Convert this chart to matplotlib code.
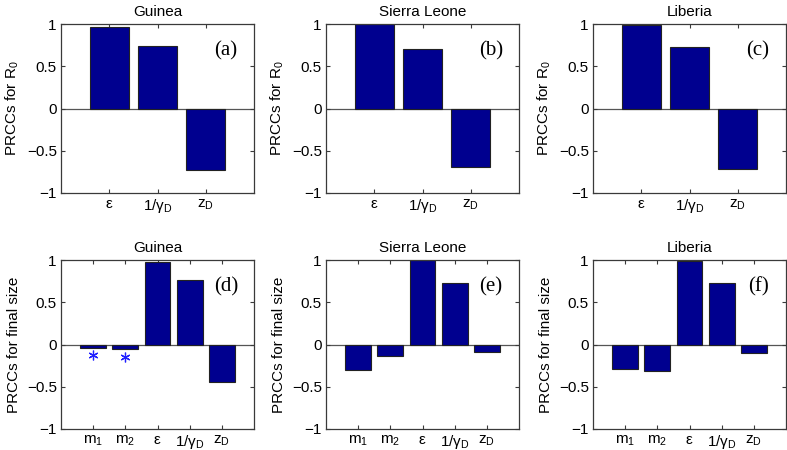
import matplotlib
matplotlib.use("Agg")
import matplotlib.pyplot as plt
import numpy as np

plt.rcParams['font.family'] = ['Liberation Sans', 'DejaVu Sans']
plt.rcParams['mathtext.fontset'] = 'custom'
plt.rcParams['mathtext.rm'] = 'Liberation Sans'
plt.rcParams['mathtext.it'] = 'Liberation Sans'
plt.rcParams['mathtext.sf'] = 'Liberation Sans'

countries = ["Guinea", "Sierra Leone", "Liberia"]

# Top row: PRCCs for R0
r0_labels = [r"$\mathrm{\varepsilon}$", r"1/$\mathrm{\gamma_D}$", r"$\mathrm{z_D}$"]
r0_guinea = [0.96, 0.74, -0.73]
r0_sierra = [1.00, 0.71, -0.69]
r0_liberia = [0.99, 0.725, -0.72]

# Bottom row: PRCCs for final size
fs_labels = [r"$\mathrm{m_1}$", r"$\mathrm{m_2}$", r"$\mathrm{\varepsilon}$",
             r"1/$\mathrm{\gamma_D}$", r"$\mathrm{z_D}$"]
fs_guinea = [-0.04, -0.055, 0.976, 0.76, -0.445]
fs_sierra = [-0.307, -0.134, 1.00, 0.73, -0.083]
fs_liberia = [-0.29, -0.315, 0.985, 0.73, -0.106]

# Non-significant markers (Guinea final size)
star_x = [1, 2]
star_y = [-0.126, -0.146]

panel_tags = ["(a)", "(b)", "(c)", "(d)", "(e)", "(f)"]

bar_color = "#00008F"
spine_color = "#3a3a3a"

fig = plt.figure(figsize=(7.87, 4.5), dpi=100)

lefts = [61/787, 326/787, 593/787]
width = 193/787
top_bottom = 1 - 193/450
bot_bottom = 1 - 429/450
height = 169/450

top_data = [r0_guinea, r0_sierra, r0_liberia]
bot_data = [fs_guinea, fs_sierra, fs_liberia]

def style_axis(ax, n, labels, ylabel):
    ax.set_xlim(0, n + 1)
    ax.set_ylim(-1, 1)
    ax.set_yticks([-1, -0.5, 0, 0.5, 1])
    ax.set_yticklabels(["\u22121", "\u22120.5", "0", "0.5", "1"])
    ax.set_xticks(np.arange(1, n + 1))
    ax.set_xticklabels(labels)
    ax.tick_params(direction='in', length=3, width=0.8, top=True, right=True,
                   labelsize=11, colors=spine_color, labelcolor='black', pad=3)
    for s in ax.spines.values():
        s.set_color(spine_color)
        s.set_linewidth(0.9)
    ax.axhline(0, color='#555555', lw=0.9, zorder=1)
    ax.set_ylabel(ylabel, fontsize=11, labelpad=4)

for i in range(3):
    ax = fig.add_axes([lefts[i], top_bottom, width, height])
    vals = top_data[i]
    x = np.arange(1, len(vals) + 1)
    ax.bar(x, vals, width=0.8, color=bar_color, edgecolor='#222222', lw=0.8, zorder=2)
    style_axis(ax, len(vals), r0_labels, r"PRCCs for R$_\mathrm{0}$")
    ax.set_title(countries[i], fontsize=11, pad=6)
    ax.text(0.855, 0.84, panel_tags[i], transform=ax.transAxes, ha='center', va='center',
            fontsize=15, family='Liberation Serif')

for i in range(3):
    ax = fig.add_axes([lefts[i], bot_bottom, width, height])
    vals = bot_data[i]
    x = np.arange(1, len(vals) + 1)
    ax.bar(x, vals, width=0.8, color=bar_color, edgecolor='#222222', lw=0.8, zorder=2)
    style_axis(ax, len(vals), fs_labels, "PRCCs for final size")
    ax.set_title(countries[i], fontsize=11, pad=6)
    ax.text(0.855, 0.84, panel_tags[i + 3], transform=ax.transAxes, ha='center', va='center',
            fontsize=15, family='Liberation Serif')
    if i == 0:
        ax.plot(star_x, star_y, linestyle='none', marker=(6, 2, 0), markersize=7,
                color='#2020ff', mew=0.9, zorder=3)

fig.savefig("out.png", dpi=100)
